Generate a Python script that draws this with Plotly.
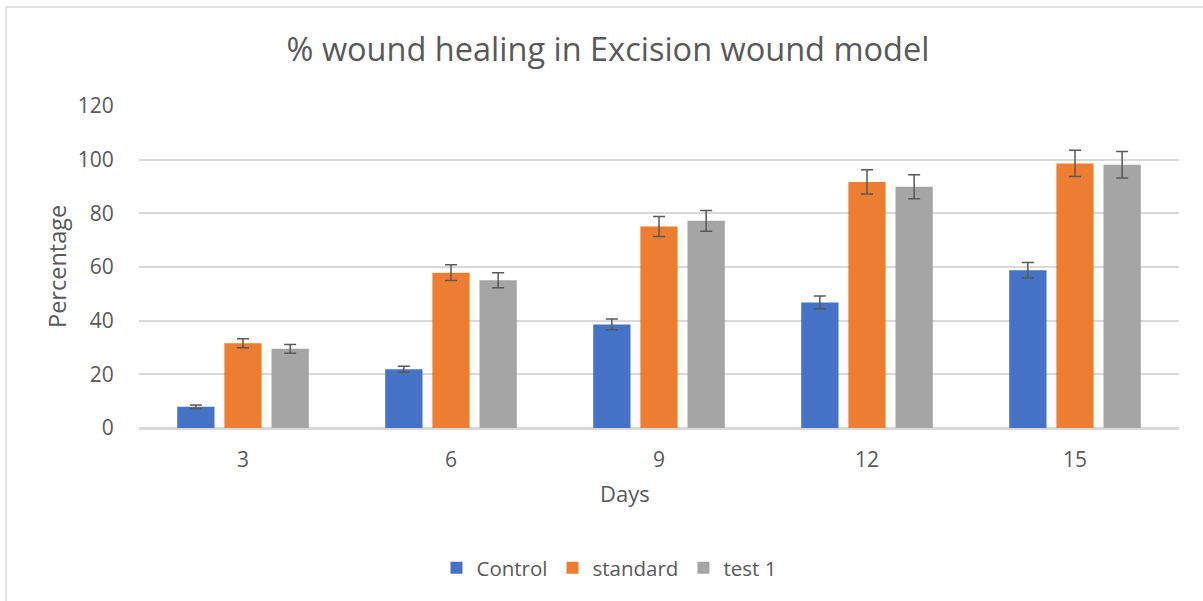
import plotly.graph_objects as go

days = ["3", "6", "9", "12", "15"]
series_names = ["Control", "standard", "test 1"]
control = [7.9, 21.9, 38.6, 46.8, 58.8]
control_err = [0.7, 1.1, 2.0, 2.4, 2.9]
standard = [31.6, 57.9, 75.1, 91.7, 98.6]
standard_err = [1.7, 2.9, 3.7, 4.5, 4.9]
test1 = [29.5, 55.1, 77.2, 89.9, 98.1]
test1_err = [1.6, 2.8, 3.9, 4.5, 4.9]
colors = ["#4472C4", "#ED7D31", "#A5A5A5"]

FONT = "Open Sans"
GRAY = "#595959"

fig = go.Figure()
for name, vals, errs, col in zip(series_names, [control, standard, test1],
                                 [control_err, standard_err, test1_err], colors):
    fig.add_trace(go.Bar(
        x=days, y=vals, name=name, marker=dict(color=col, line=dict(width=0)),
        error_y=dict(type="data", array=errs, visible=True, color=GRAY,
                     thickness=1.5, width=6),
    ))

W, H = 1203, 601
L, R, T, B = 139, 24, 106, 173
pw = W - L - R
ph = H - T - B

def px2x(px):
    return (px - L) / pw

def py2y(py):
    return (H - B - py) / ph

fig.update_layout(
    width=W, height=H,
    margin=dict(l=L, r=R, t=T, b=B),
    paper_bgcolor="white", plot_bgcolor="white",
    barmode="group", bargap=0.32, bargroupgap=0.21,
    font=dict(family=FONT, color=GRAY, size=18),
    title=dict(text="% wound healing in Excision wound model",
               font=dict(family=FONT, size=32.5, color=GRAY),
               x=608 / W, xanchor="center", xref="container",
               y=1 - 50 / H, yanchor="middle", yref="container"),
    showlegend=True,
    legend=dict(orientation="h", x=px2x(609), xanchor="center",
                y=py2y(568), yanchor="middle",
                font=dict(family=FONT, size=20.5, color=GRAY),
                itemwidth=30, traceorder="normal"),
    xaxis=dict(type="category", showgrid=False, showline=True,
               linecolor="#d9d9d9", linewidth=1.5,
               tickfont=dict(family=FONT, size=21, color=GRAY),
               ticks="outside", ticklen=12, tickcolor="rgba(0,0,0,0)"),
    yaxis=dict(range=[0, 120], dtick=20, showgrid=True, gridcolor="#d9d9d9",
               gridwidth=1.5, zeroline=True, zerolinecolor="#d9d9d9",
               zerolinewidth=1.5, showline=False,
               tickfont=dict(family=FONT, size=21, color=GRAY),
               ticks="outside", ticklen=20, tickcolor="rgba(0,0,0,0)"),
    shapes=[dict(type="rect", xref="paper", yref="paper",
                 x0=px2x(6), x1=px2x(1215), y0=py2y(620), y1=py2y(7),
                 line=dict(color="#d9d9d9", width=1.5), layer="below")],
    annotations=[
        dict(text="Days", xref="paper", yref="paper", x=px2x(625), y=py2y(493),
             xanchor="center", yanchor="middle", showarrow=False,
             font=dict(family=FONT, size=22, color=GRAY)),
        dict(text="Percentage", xref="paper", yref="paper", x=px2x(57), y=py2y(267),
             xanchor="center", yanchor="middle", showarrow=False, textangle=-90,
             font=dict(family=FONT, size=23.5, color=GRAY)),
    ],
)

fig.write_html("out.html", config={"displayModeBar": False},
               post_script="document.body.style.margin='0';")
